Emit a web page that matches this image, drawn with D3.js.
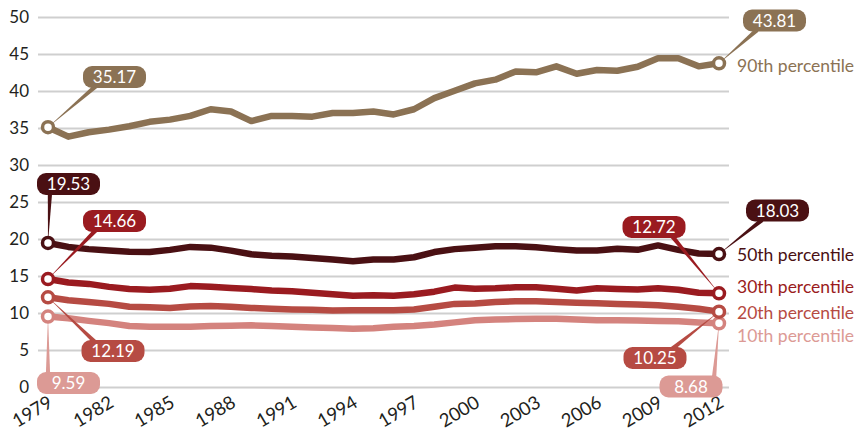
<!DOCTYPE html>
<html>
<head>
<meta charset="utf-8">
<script src="https://cdn.jsdelivr.net/npm/d3@7"></script>
<style>
  body { margin: 0; background: #fff; }
  svg { display: block; font-family: Lato, "Open Sans", sans-serif; }
</style>
</head>
<body>
<div id="chart"></div>
<script>
var years = d3.range(1979, 2013);

var p90 = [35.17, 33.9, 34.5, 34.85, 35.3, 35.9, 36.2, 36.7, 37.6, 37.3, 36.0, 36.7, 36.7, 36.6, 37.1, 37.1, 37.3,
  36.9, 37.6, 39.1, 40.1, 41.1, 41.6, 42.7, 42.6, 43.4, 42.4, 42.9, 42.8, 43.35, 44.5, 44.5, 43.4, 43.81];
var p50 = [19.53, 19.0, 18.7, 18.5, 18.35, 18.3, 18.6, 19.0, 18.9, 18.5, 18.0, 17.8, 17.7, 17.5, 17.3, 17.05, 17.3,
  17.3, 17.6, 18.3, 18.7, 18.9, 19.1, 19.1, 18.95, 18.7, 18.5, 18.5, 18.75, 18.6, 19.2, 18.6, 18.1, 18.03];
var p30 = [14.66, 14.2, 14.0, 13.6, 13.3, 13.2, 13.35, 13.7, 13.6, 13.45, 13.3, 13.1, 13.0, 12.8, 12.6, 12.4, 12.45,
  12.4, 12.6, 12.95, 13.5, 13.35, 13.4, 13.55, 13.55, 13.35, 13.1, 13.4, 13.3, 13.25, 13.4, 13.2, 12.8, 12.72];
var p20 = [12.19, 11.8, 11.55, 11.3, 10.9, 10.85, 10.75, 10.95, 11.0, 10.9, 10.75, 10.65, 10.55, 10.5, 10.4, 10.45, 10.45,
  10.45, 10.55, 10.9, 11.3, 11.35, 11.55, 11.65, 11.65, 11.55, 11.45, 11.4, 11.3, 11.2, 11.1, 10.9, 10.65, 10.25];
var p10 = [9.59, 9.35, 9.0, 8.7, 8.3, 8.2, 8.2, 8.2, 8.3, 8.35, 8.4, 8.3, 8.2, 8.1, 8.05, 7.95, 8.0,
  8.2, 8.3, 8.5, 8.8, 9.1, 9.2, 9.25, 9.3, 9.3, 9.2, 9.1, 9.1, 9.05, 9.0, 8.95, 8.8, 8.68];

var seriesNames = ["90th percentile", "50th percentile", "30th percentile", "20th percentile", "10th percentile"];
var seriesValues = [p90, p50, p30, p20, p10];
var seriesColors = ["#8b7254", "#4a1013", "#9a1b20", "#b64b43", "#d4837e"];
var labelColors = ["#8b7254", "#4a1013", "#9a1b20", "#b64b43", "#dc9a95"];
var yTicks = [0, 5, 10, 15, 20, 25, 30, 35, 40, 45, 50];
var xTicks = d3.range(1979, 2013, 3);

// callout boxes: which series, which end, box centre and where the pointer leaves the box
var callouts = [
  { s: 0, end: 0, bx: 114.5, by: 77, px: 96, py: 86 },
  { s: 1, end: 0, bx: 68.5, by: 184, px: 50, py: 192 },
  { s: 2, end: 0, bx: 114.5, by: 221, px: 96, py: 230 },
  { s: 3, end: 0, bx: 113, by: 351, px: 95, py: 342 },
  { s: 4, end: 0, bx: 68.5, by: 383, px: 48, py: 376 },
  { s: 0, end: 1, bx: 774.5, by: 20.5, px: 757, py: 30 },
  { s: 1, end: 1, bx: 777.5, by: 210.5, px: 762, py: 220 },
  { s: 2, end: 1, bx: 654, by: 227, px: 672, py: 236 },
  { s: 3, end: 1, bx: 655, by: 358, px: 672, py: 349 },
  { s: 4, end: 1, bx: 691, by: 386.5, px: 714, py: 378 }
];
var labelY = [66, 255, 287, 313, 336];

var width = 860, height = 435;
var svg = d3.select("#chart").append("svg")
  .attr("width", width)
  .attr("height", height);

var x = d3.scaleLinear().domain([1979, 2012]).range([48, 719]);
var y = d3.scaleLinear().domain([0, 50]).range([387.5, 17.5]);

// grid
svg.append("g").selectAll("line").data(yTicks).enter()
  .append("line")
    .attr("x1", 38).attr("x2", 729)
    .attr("y1", function(d) { return y(d); })
    .attr("y2", function(d) { return y(d); })
    .attr("stroke", "#cfcfcf")
    .attr("stroke-width", 2);

// y labels
svg.append("g").selectAll("text").data(yTicks).enter()
  .append("text")
    .attr("x", 29)
    .attr("y", function(d) { return y(d); })
    .attr("dy", "0.35em")
    .attr("text-anchor", "end")
    .attr("font-size", 17)
    .attr("fill", "#231f20")
    .text(function(d) { return d; });

// x labels
svg.append("g").selectAll("text").data(xTicks).enter()
  .append("text")
    .attr("transform", function(d) { return "translate(" + (x(d) + 6) + ",406) rotate(-31)"; })
    .attr("text-anchor", "end")
    .attr("font-size", 18.5)
    .attr("fill", "#231f20")
    .text(function(d) { return d; });

var line = d3.line()
  .x(function(d, i) { return x(years[i]); })
  .y(function(d) { return y(d); });

// draw bottom series first
var order = [4, 3, 2, 1, 0];
order.forEach(function(s) {
  svg.append("path")
    .datum(seriesValues[s])
    .attr("d", line)
    .attr("fill", "none")
    .attr("stroke", seriesColors[s])
    .attr("stroke-width", 6.5)
    .attr("stroke-linejoin", "round");
});

// pointers
callouts.forEach(function(c) {
  var vals = seriesValues[c.s];
  var i = c.end ? vals.length - 1 : 0;
  var tx = x(years[i]), ty = y(vals[i]);
  var dx = tx - c.px, dy = ty - c.py;
  var len = Math.sqrt(dx * dx + dy * dy);
  var nx = -dy / len * 2.2, ny = dx / len * 2.2;
  svg.append("path")
    .attr("d", "M" + (c.px + nx) + "," + (c.py + ny) + "L" + (c.px - nx) + "," + (c.py - ny) + "L" + tx + "," + ty + "Z")
    .attr("fill", labelColors[c.s]);
});

// end markers
order.forEach(function(s) {
  var vals = seriesValues[s];
  [0, vals.length - 1].forEach(function(i) {
    svg.append("circle")
      .attr("cx", x(years[i]))
      .attr("cy", y(vals[i]))
      .attr("r", 5.5)
      .attr("fill", "#fff")
      .attr("stroke", seriesColors[s])
      .attr("stroke-width", 3.5);
  });
});

// callout boxes
var fmt = d3.format(".2f");
callouts.forEach(function(c) {
  var vals = seriesValues[c.s];
  var v = c.end ? vals[vals.length - 1] : vals[0];
  svg.append("rect")
    .attr("x", c.bx - 31.5).attr("y", c.by - 11)
    .attr("width", 63).attr("height", 22)
    .attr("rx", 9)
    .attr("fill", labelColors[c.s]);
  svg.append("text")
    .attr("x", c.bx).attr("y", c.by)
    .attr("dy", "0.36em")
    .attr("text-anchor", "middle")
    .attr("font-size", 17)
    .attr("fill", "#fff")
    .text(fmt(v));
});

// series names
seriesNames.forEach(function(n, s) {
  svg.append("text")
    .attr("x", 737)
    .attr("y", labelY[s])
    .attr("dy", "0.35em")
    .attr("font-size", 17.5)
    .attr("fill", labelColors[s])
    .text(n);
});
</script>
</body>
</html>
